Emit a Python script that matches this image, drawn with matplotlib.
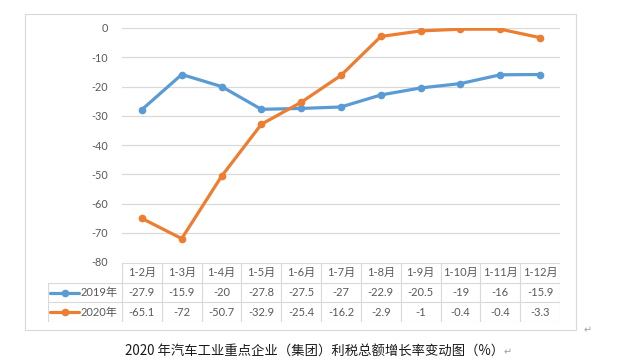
import matplotlib
matplotlib.use("Agg")
import matplotlib.pyplot as plt
from matplotlib.patches import Rectangle

plt.rcParams['font.family'] = ['Lato', 'Noto Sans CJK SC', 'DejaVu Sans']

categories = ['1-2月', '1-3月', '1-4月', '1-5月', '1-6月', '1-7月', '1-8月', '1-9月', '1-10月', '1-11月', '1-12月']
series_names = ['2019年', '2020年']
values_2019 = [-27.9, -15.9, -20, -27.8, -27.5, -27, -22.9, -20.5, -19, -16, -15.9]
values_2020 = [-65.1, -72, -50.7, -32.9, -25.4, -16.2, -2.9, -1, -0.4, -0.4, -3.3]
label_2019 = ['-27.9', '-15.9', '-20', '-27.8', '-27.5', '-27', '-22.9', '-20.5', '-19', '-16', '-15.9']
label_2020 = ['-65.1', '-72', '-50.7', '-32.9', '-25.4', '-16.2', '-2.9', '-1', '-0.4', '-0.4', '-3.3']
yticks = [0, -10, -20, -30, -40, -50, -60, -70, -80]
title = '2020 年汽车工业重点企业（集团）利税总额增长率变动图（%）'

colors = ['#5B9BD5', '#ED7D31']
grid_c = '#D9D9D9'
text_c = '#595959'

W, H = 640, 364
fig = plt.figure(figsize=(6.4, 3.64), dpi=100)

def fx(px):
    return px / W

def fy(py):
    return 1 - py / H

# Outer chart frame
fig.patches.append(Rectangle((fx(25), fy(330)), fx(576) - fx(25), fy(14) - fy(330),
                             transform=fig.transFigure, fill=False, edgecolor=grid_c, lw=0.8))

# Main plot axes
pl, pr, pt, pb = 122, 560, 28, 262
ax = fig.add_axes([fx(pl), fy(pb), fx(pr) - fx(pl), fy(pt) - fy(pb)])
n = len(categories)
x = list(range(n))
ax.set_xlim(-0.5, n - 0.5)
ax.set_ylim(-80, 0)
ax.set_yticks(yticks)
ax.set_yticklabels([str(v) for v in yticks])
ax.yaxis.grid(True, color=grid_c, lw=0.9)
ax.set_axisbelow(True)
ax.set_xticks([])
for s in ax.spines.values():
    s.set_visible(False)
ax.tick_params(axis='y', length=0, pad=10, labelsize=7.8, labelcolor=text_c)
for vals, c in zip([values_2019, values_2020], colors):
    ax.plot(x, vals, color=c, lw=2.3, marker='o', ms=4.5, zorder=3, solid_capstyle='round')

# Data table axes
tl = 48
cw = (pr - pl) / n
x0 = -0.5 - (pl - tl) / cw
tt, tb = 263, 322
tax = fig.add_axes([fx(tl), fy(tb), fx(pr) - fx(tl), fy(tt) - fy(tb)])
tax.set_xlim(x0, n - 0.5)
tax.set_ylim(3, 0)
tax.axis('off')
lc = '#D9D9D9'
lw = 0.8
tax.plot([-0.5, n - 0.5], [0, 0], color=lc, lw=lw)
for yy in [1, 2, 3]:
    tax.plot([x0, n - 0.5], [yy, yy], color=lc, lw=lw)
for i in range(n + 1):
    tax.plot([i - 0.5, i - 0.5], [0, 3], color=lc, lw=lw)
tax.plot([x0, x0], [1, 3], color=lc, lw=lw)

fs = 8
for i, cat in enumerate(categories):
    tax.text(i, 0.5, cat, ha='center', va='center', fontsize=fs, color=text_c)
for r, labels in enumerate([label_2019, label_2020]):
    for i, lab in enumerate(labels):
        tax.text(i, r + 1.5, lab, ha='center', va='center', fontsize=fs, color=text_c)

for r, (name, c) in enumerate(zip(series_names, colors)):
    ly = r + 1.5
    kx0 = x0 + 2 / cw
    kx1 = x0 + 31 / cw
    tax.plot([kx0, kx1], [ly, ly], color=c, lw=2.3, solid_capstyle='round')
    tax.plot([(kx0 + kx1) / 2], [ly], color=c, marker='o', ms=4.5)
    tax.text(x0 + 33 / cw, ly, name, ha='left', va='center', fontsize=fs, color=text_c)

fig.text(fx(588), fy(330), '↵', ha='center', va='center', fontsize=7, color='#A0A0A0',
         family=['DejaVu Sans'])

fig.text(fx(315), fy(352), title, ha='center', va='center', fontsize=9.6, color='#1a1a1a',
         family=['Noto Sans CJK SC', 'DejaVu Sans'])
fig.text(fx(508), fy(352), '↵', ha='center', va='center', fontsize=7, color='#A0A0A0',
         family=['DejaVu Sans'])

fig.savefig('out.png', dpi=100)
